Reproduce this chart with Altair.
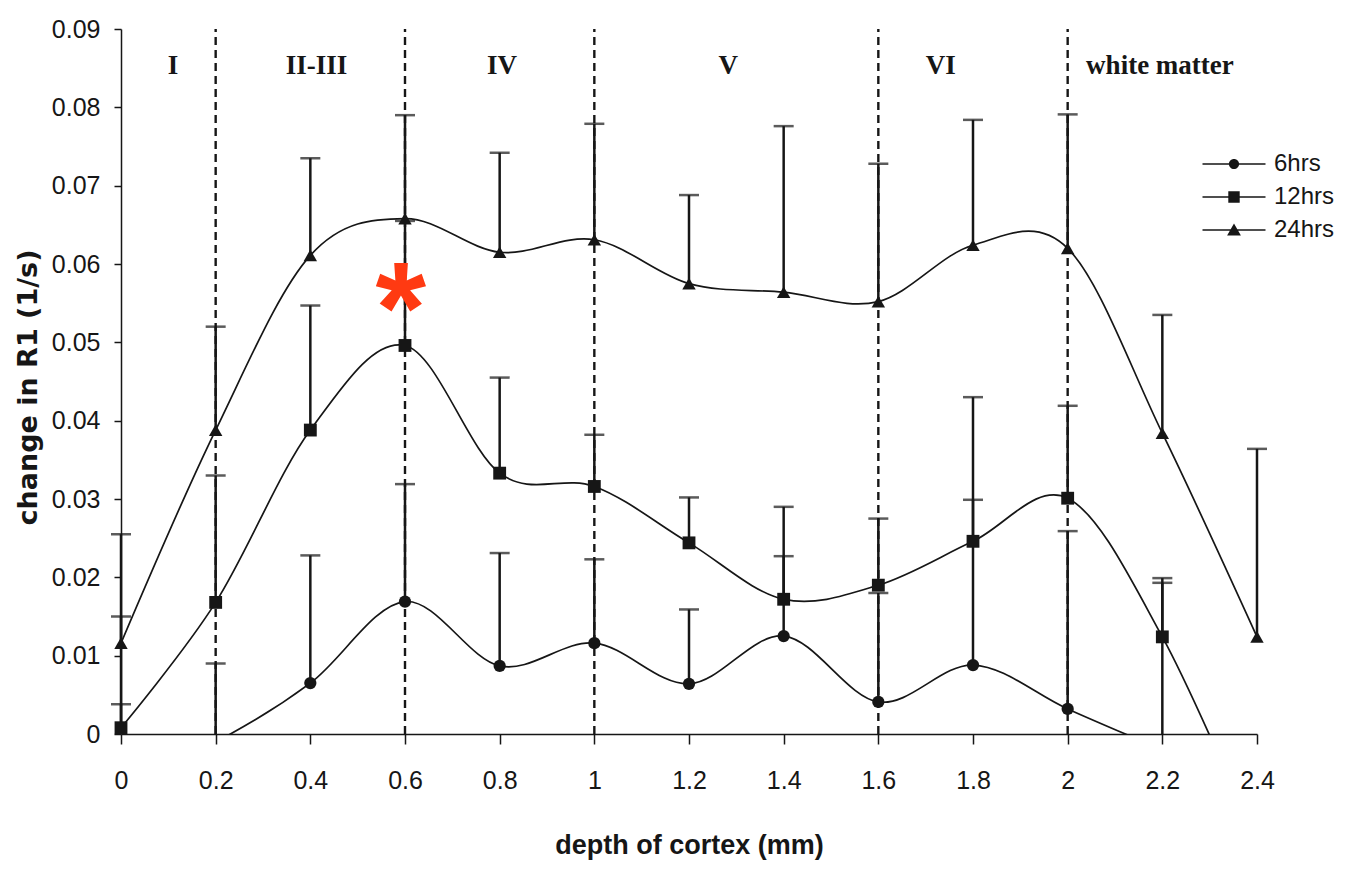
import altair as alt
import pandas as pd

# ---------------- data ----------------
depth = [0.0, 0.2, 0.4, 0.6, 0.8, 1.0, 1.2, 1.4, 1.6, 1.8, 2.0, 2.2, 2.4]
series_names = ["6hrs", "12hrs", "24hrs"]

r1_6hrs = [-0.006, -0.001, 0.0065, 0.0169, 0.0087, 0.0116, 0.0064, 0.0125, 0.0041, 0.0088, 0.0032, -0.002, None]
r1_12hrs = [0.0008, 0.0168, 0.0388, 0.0496, 0.0333, 0.0316, 0.0244, 0.0172, 0.0190, 0.0246, 0.0301, 0.0124, -0.014]
r1_24hrs = [0.0116, 0.0388, 0.0611, 0.0658, 0.0615, 0.0631, 0.0575, 0.0564, 0.0552, 0.0624, 0.0620, 0.0384, 0.0124]

err_top_6hrs = [0.0038, 0.0090, 0.0228, 0.0319, 0.0231, 0.0223, 0.0159, 0.0227, 0.0180, 0.0299, 0.0259, 0.0193, None]
err_top_12hrs = [0.0150, 0.0330, 0.0547, 0.0655, 0.0455, 0.0382, 0.0302, 0.0290, 0.0275, 0.0430, 0.0419, 0.0199, None]
err_top_24hrs = [0.0255, 0.0520, 0.0735, 0.0790, 0.0742, 0.0779, 0.0688, 0.0776, 0.0728, 0.0784, 0.0791, 0.0535, 0.0364]

layer_boundaries = [0.2, 0.6, 1.0, 1.6, 2.0]
layer_names = ["I", "II-III", "IV", "V", "VI", "white matter"]
layer_label_x = [0.11, 0.413, 0.805, 1.283, 1.732, 2.195]
layer_label_y = 0.0842

star_x = [0.591]
star_y = [0.0571]

x_ticks = [0, 0.2, 0.4, 0.6, 0.8, 1, 1.2, 1.4, 1.6, 1.8, 2, 2.2, 2.4]
y_ticks = [0, 0.01, 0.02, 0.03, 0.04, 0.05, 0.06, 0.07, 0.08, 0.09]

# ---------------- tables ----------------
rows = []
for name, vals, tops in zip(series_names,
                            [r1_6hrs, r1_12hrs, r1_24hrs],
                            [err_top_6hrs, err_top_12hrs, err_top_24hrs]):
    for d, v, t in zip(depth, vals, tops):
        if v is None:
            continue
        rows.append({"depth": d, "series": name, "r1": v, "top": t})
df = pd.DataFrame(rows)
err_df = df.dropna(subset=["top"])

bound_df = pd.DataFrame({"depth": layer_boundaries,
                         "y0": [0.0] * len(layer_boundaries),
                         "y1": [0.09] * len(layer_boundaries)})
label_df = pd.DataFrame({"depth": layer_label_x, "name": layer_names,
                         "y": [layer_label_y] * len(layer_names)})
star_df = pd.DataFrame({"depth": star_x, "y": star_y, "t": ["*"]})

ink = "#161616"
sans = "Liberation Sans, Arial, sans-serif"

x_axis = alt.Axis(values=x_ticks, format="~g", grid=False, tickSize=10, tickWidth=1.5,
                  tickColor=ink, domainColor=ink, domainWidth=1.5,
                  labelFont=sans, labelFontSize=25, labelColor=ink, labelPadding=24,
                  labelFlush=False, labelOverlap=False,
                  title="depth of cortex (mm)", titleFont=sans, titleFontSize=27,
                  titleFontWeight="bold", titleColor=ink, titleBaseline="alphabetic", titleY=119)
y_axis = alt.Axis(values=y_ticks, format="~g", grid=False, tickSize=7, tickWidth=1.5,
                  tickColor=ink, domainColor=ink, domainWidth=1.5,
                  labelFont=sans, labelFontSize=25, labelColor=ink, labelPadding=14,
                  labelFlush=False, labelOverlap=False,
                  title="change in R1 (1/s)", titleFont="DejaVu Sans", titleFontSize=27,
                  titleFontWeight="bold", titleColor=ink, titleAngle=270,
                  titleBaseline="middle", titleAlign="center", titleX=-93, titleY=358)

xs = alt.Scale(domain=[0, 2.4], nice=False, zero=False)
ys = alt.Scale(domain=[0, 0.09], nice=False, zero=False)
X = alt.X("depth:Q", scale=xs, axis=x_axis)

bounds = alt.Chart(bound_df).mark_rule(color=ink, strokeWidth=2.4, strokeDash=[8, 5]).encode(
    x=X, y=alt.Y("y0:Q", scale=ys, axis=y_axis), y2="y1:Q")

err = alt.Chart(err_df).transform_calculate(
    lo="max(datum.r1, 0)"
).mark_rule(color=ink, strokeWidth=2.5).encode(
    x=X, y=alt.Y("lo:Q", scale=ys, axis=y_axis), y2="top:Q")

caps = alt.Chart(err_df).mark_tick(color=ink, thickness=2.5, size=20, orient="horizontal").encode(
    x=X, y=alt.Y("top:Q", scale=ys, axis=y_axis))

lines = alt.Chart(df).mark_line(color=ink, strokeWidth=1.7, interpolate="cardinal", clip=True).encode(
    x=X, y=alt.Y("r1:Q", scale=ys, axis=y_axis), detail="series:N")

points = alt.Chart(df).transform_filter("datum.r1 >= 0").mark_point(
    filled=True, color=ink, opacity=1).encode(
    x=X, y=alt.Y("r1:Q", scale=ys, axis=y_axis),
    shape=alt.Shape("series:N", scale=alt.Scale(domain=series_names,
                                                range=["circle", "square", "triangle-up"]), legend=None),
    size=alt.Size("series:N", scale=alt.Scale(domain=series_names, range=[150, 180, 210]), legend=None))

legend_paths = [
    "M-2.1,-0.05H2.1V0.05H-2.1ZM0.34,0A0.34,0.34,0,1,1,-0.34,0A0.34,0.34,0,1,1,0.34,0Z",
    "M-2.1,-0.05H2.1V0.05H-2.1ZM-0.38,-0.38H0.38V0.38H-0.38Z",
    "M-2.1,-0.05H2.1V0.05H-2.1ZM0,-0.44L0.46,0.36H-0.46Z",
]
legend_layer = alt.Chart(df).mark_point(filled=True, fill=ink, stroke=ink, opacity=0,
                                        strokeWidth=1.6).encode(
    x=X, y=alt.Y("r1:Q", scale=ys, axis=y_axis),
    shape=alt.Shape("series:N", scale=alt.Scale(domain=series_names, range=legend_paths),
                    legend=alt.Legend(title=None, orient="none", legendX=1097, legendY=119,
                                      symbolSize=900, symbolOpacity=1, symbolFillColor=ink,
                                      symbolStrokeColor=ink, symbolStrokeWidth=1.6,
                                      labelFont=sans, labelFontSize=24, labelColor=ink,
                                      labelOffset=24, rowPadding=5, padding=0)))

labels = alt.Chart(label_df).mark_text(font="Liberation Serif", fontWeight="bold", fontSize=27,
                                       color=ink, baseline="alphabetic", align="center").encode(
    x=X, y=alt.Y("y:Q", scale=ys, axis=y_axis), text="name:N")

star = alt.Chart(star_df).mark_text(font="Liberation Sans", fontWeight="bold", fontSize=130,
                                    color="#ff3a12", baseline="alphabetic", align="center", dy=66).encode(
    x=X, y=alt.Y("y:Q", scale=ys, axis=y_axis), text="t:N")

chart = alt.layer(bounds, err, caps, lines, points, legend_layer, labels, star).resolve_scale(
    shape="independent", size="independent"
).properties(
    width=1136, height=705,
    padding={"left": 113, "top": 21, "right": 85, "bottom": 126},
    autosize=alt.AutoSizeParams(type="none"),
    background="white",
).configure_view(stroke=None)

chart.save("out.html", embed_options={"renderer": "svg", "actions": False})
